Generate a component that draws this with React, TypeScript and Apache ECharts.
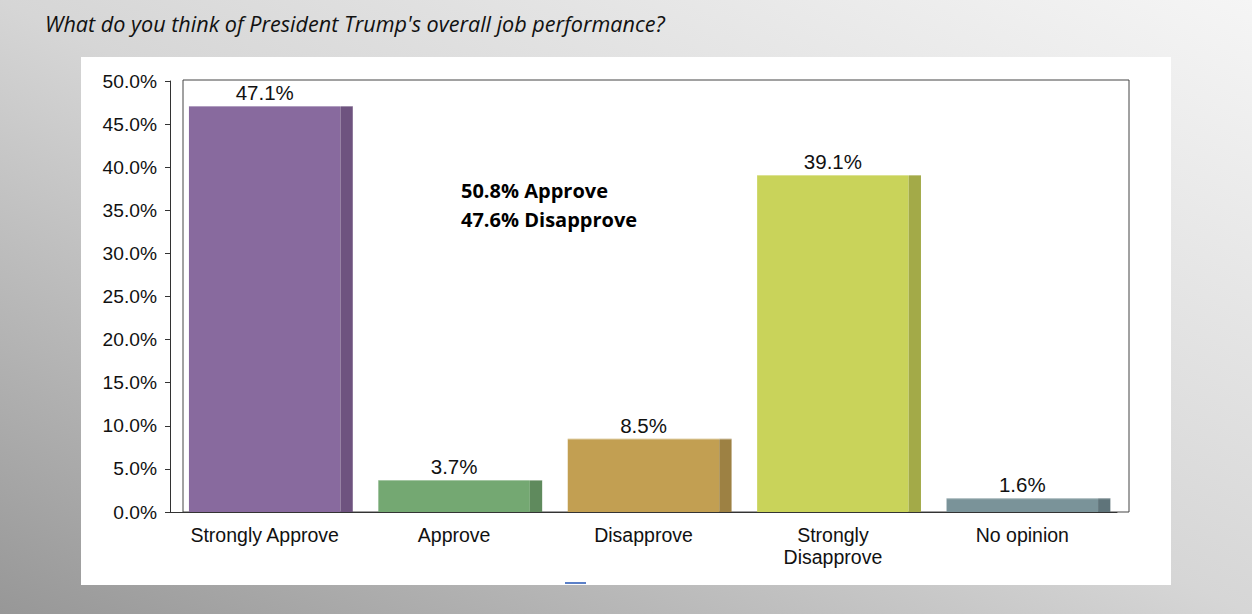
import React, { useEffect, useRef } from "react";
import * as echarts from "echarts";

const categories = ["Strongly Approve", "Approve", "Disapprove", "Strongly\nDisapprove", "No opinion"];
const values = [47.1, 3.7, 8.5, 39.1, 1.6];
const frontColors = ["#886a9e", "#74a872", "#c29f52", "#c9d35a", "#7a9399"];
const sideColors = ["#6e537f", "#5f8a5d", "#9d8143", "#a3aa48", "#5f747a"];
const yTicks = { min: 0, max: 50, interval: 5 };
const titleText = "What do you think of President Trump's overall job performance?";
const noteLines = ["50.8% Approve", "47.6% Disapprove"];

export default function App() {
  const ref = useRef<HTMLDivElement>(null);
  useEffect(() => {
    if (!ref.current) return;
    const chart = echarts.init(ref.current, null, { renderer: "svg" });
    const sans = "'Liberation Sans', Arial, sans-serif";
    chart.setOption({
      animation: false,
      backgroundColor: new echarts.graphic.LinearGradient(0, 1, 1, 0, [
        { offset: 0, color: "#979797" },
        { offset: 0.5, color: "#d6d6d6" },
        { offset: 1, color: "#f5f5f5" },
      ]),
      graphic: [
        { type: "rect", z: -10, shape: { x: 81, y: 57, width: 1090, height: 528 }, style: { fill: "#ffffff" } },
        { type: "rect", z: -9, shape: { x: 565, y: 582, width: 21, height: 2 }, style: { fill: "#5b80c8" } },
        {
          type: "text",
          x: 45,
          y: 23,
          style: {
            text: titleText,
            font: "italic 21.6px 'Open Sans', sans-serif",
            fill: "#111",
            verticalAlign: "middle",
          },
        },
        {
          type: "text",
          x: 461,
          y: 190,
          style: {
            text: noteLines[0],
            font: "bold 20px 'Open Sans', sans-serif",
            fill: "#000",
            verticalAlign: "middle",
          },
        },
        {
          type: "text",
          x: 461,
          y: 219,
          style: {
            text: noteLines[1],
            font: "bold 20px 'Open Sans', sans-serif",
            fill: "#000",
            verticalAlign: "middle",
          },
        },
      ],
      grid: [
        { left: 170, right: 135, top: 81, bottom: 102, containLabel: false },
        { left: 183, right: 123, top: 80, bottom: 102, show: true, borderColor: "#444", borderWidth: 1, backgroundColor: "transparent", z: 0 },
      ],
      xAxis: [
        {
          type: "category",
          gridIndex: 0,
          data: categories,
          axisLine: { lineStyle: { color: "#333", width: 1 } },
          axisTick: { alignWithLabel: true, length: 5, lineStyle: { color: "#333" } },
          axisLabel: { color: "#111", fontSize: 19.5, fontFamily: sans, margin: 12, lineHeight: 22, interval: 0 },
          z: 5,
        },
        { type: "value", gridIndex: 1, show: false },
      ],
      yAxis: [
        {
          type: "value",
          gridIndex: 0,
          min: yTicks.min,
          max: yTicks.max,
          interval: yTicks.interval,
          axisLine: { show: true, lineStyle: { color: "#333", width: 1 } },
          axisTick: { show: true, length: 5, lineStyle: { color: "#333" } },
          splitLine: { show: false },
          axisLabel: {
            color: "#111",
            fontSize: 19.2,
            fontFamily: sans,
            margin: 13,
            formatter: (v: number) => v.toFixed(1) + "%",
          },
        },
        { type: "value", gridIndex: 1, show: false },
      ],
      series: [
        {
          type: "custom",
          xAxisIndex: 0,
          yAxisIndex: 0,
          z: 3,
          data: values.map((v, i) => [i, v]),
          renderItem: (params: any, api: any) => {
            const idx = api.value(0);
            const val = api.value(1);
            const top = api.coord([idx, val]);
            const base = api.coord([idx, 0]);
            const band = api.size([1, 0])[0];
            const fw = band * 0.8;
            const sw = band * 0.065;
            const x0 = top[0] - fw / 2;
            const h = base[1] - top[1];
            return {
              type: "group",
              children: [
                {
                  type: "rect",
                  shape: { x: x0, y: top[1], width: fw, height: h },
                  style: { fill: frontColors[idx] },
                },
                {
                  type: "rect",
                  shape: { x: x0 + fw, y: top[1], width: sw, height: h },
                  style: { fill: sideColors[idx] },
                },
                {
                  type: "rect",
                  shape: { x: x0, y: top[1], width: fw + sw, height: 1 },
                  style: { fill: "rgba(255,255,255,0.35)" },
                },
                {
                  type: "text",
                  x: top[0],
                  y: top[1] - 3,
                  style: {
                    text: val.toFixed(1) + "%",
                    font: "20.5px 'Liberation Sans', Arial, sans-serif",
                    fill: "#111",
                    align: "center",
                    verticalAlign: "bottom",
                  },
                },
              ],
            };
          },
        },
      ],
    });
    return () => chart.dispose();
  }, []);
  return <div ref={ref} style={{ position: "fixed", left: 0, top: 0, width: 1252, height: 614 }} />;
}
